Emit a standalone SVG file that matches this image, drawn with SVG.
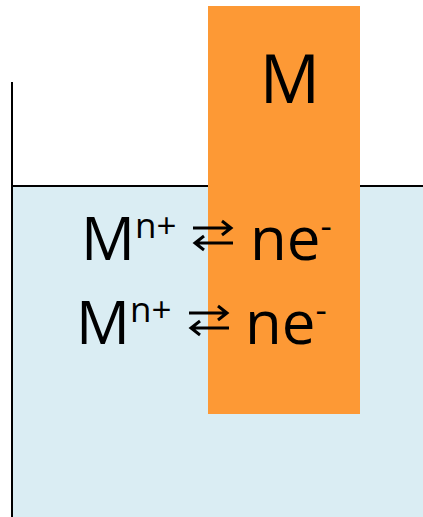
<svg xmlns="http://www.w3.org/2000/svg" width="423" height="517" viewBox="0 0 423 517">
<style>
.t{font-family:"Open Sans","Liberation Sans",sans-serif;fill:#000}
.big{font-size:60px}
.sup{font-size:35px}
.ar{stroke:#000;stroke-width:3;fill:none}
</style>
<rect width="423" height="517" fill="#fff"/>
<g id="solution">
<rect x="12" y="186" width="411" height="331" fill="#DAEDF3"/>
<path d="M12,82 V517 M12,186 H423" stroke="#000" stroke-width="2" fill="none"/>
</g>
<g id="electrode">
<rect x="208" y="6" width="152" height="408" fill="#FD9935"/>
<text class="t" x="290" y="103" font-size="67" text-anchor="middle">M</text>
</g>
<g id="row1">
<text class="t big" x="81" y="260">M<tspan class="sup" dy="-22">n+</tspan></text>
<text class="t big" x="250" y="260">ne<tspan class="sup" dy="-22">-</tspan></text>
</g>
<g id="row2">
<text class="t big" x="76" y="344">M<tspan class="sup" dy="-22">n+</tspan></text>
<text class="t big" x="245" y="344">ne<tspan class="sup" dy="-22">-</tspan></text>
</g>
<g id="connectors">
<path class="ar" d="M193,228 H230 M222,221 L231,228 L222,235"/>
<path class="ar" d="M233,243 H196 M204,236 L195,243 L204,250"/>
<path class="ar" d="M189,313 H226 M218,306 L227,313 L218,320"/>
<path class="ar" d="M229,328 H192 M200,321 L191,328 L200,335"/>
</g>
</svg>
